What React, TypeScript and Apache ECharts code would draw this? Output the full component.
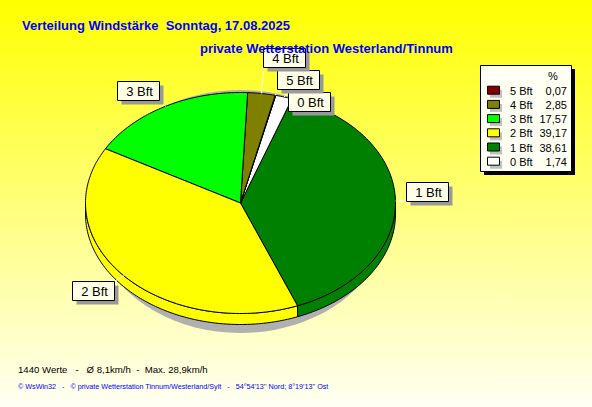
import React, { useEffect, useRef } from 'react';
import * as echarts from 'echarts';

// ---- data ----
const categories = ['5 Bft', '4 Bft', '3 Bft', '2 Bft', '1 Bft', '0 Bft'];
const percentValues = [0.07, 2.85, 17.57, 39.17, 38.61, 1.74];
const sliceColors = ['#800000', '#808000', '#00ff00', '#ffff00', '#008000', '#ffffff'];
// counter-clockwise drawing order of the slices (indices into categories)
const pieOrder = [4, 5, 0, 1, 2, 3];

const titleMain = 'Verteilung Windstärke  Sonntag, 17.08.2025';
const titleSub = 'private Wetterstation Westerland/Tinnum';
const statsLine = '1440 Werte   -   Ø 8,1km/h  -  Max. 28,9km/h';
const footerLine = "© WsWin32   -   © private Wetterstation Tinnum/Westerland/Sylt   -   54°54'13'' Nord; 8°19'13'' Ost";
const legendHeader = '%';

// ---- layout ----
const PIE = { cx: 240.5, cy: 203, rx: 155, ry: 110.5, depth: 11, startDeg: -68.4 };
const LABEL_OFFSETS: number[][] = [[2, -25], [2, -46], [-48, -25], [-52, 5], [11, -19], [4, -5]];
const LABEL_W = 42;
const LABEL_H = 19;
const FONT = '"Liberation Sans", Arial, sans-serif';

const total = percentValues.reduce((a, b) => a + b, 0);
const slices = (() => {
  let a = PIE.startDeg;
  return pieOrder.map((i) => {
    const span = (percentValues[i] / total) * 360;
    const s = { index: i, a0: a, a1: a + span };
    a += span;
    return s;
  });
})();

function pt(deg: number, dy = 0): number[] {
  const r = (deg * Math.PI) / 180;
  return [PIE.cx + PIE.rx * Math.cos(r), PIE.cy - PIE.ry * Math.sin(r) + dy];
}
function arc(a0: number, a1: number, dy = 0): number[][] {
  const n = Math.max(2, Math.ceil(Math.abs(a1 - a0)) + 1);
  const pts: number[][] = [];
  for (let k = 0; k < n; k++) pts.push(pt(a0 + ((a1 - a0) * k) / (n - 1), dy));
  return pts;
}
const fmt = (v: number) => v.toFixed(2).replace('.', ',');

function txt(text: string, x: number, y: number, font: string, fill: string, align = 'left', z = 10) {
  return {
    type: 'text',
    z,
    style: { text, x, y, font, fill, textAlign: align, align, textVerticalAlign: 'middle', verticalAlign: 'middle' },
  };
}

export default function App() {
  const ref = useRef<HTMLDivElement>(null);
  useEffect(() => {
    if (!ref.current) return;
    const chart = echarts.init(ref.current, undefined, { renderer: 'svg' });

    const legendX = 480, legendY = 65, legendW = 91, legendH = 106;
    const rowY0 = 90.7, rowStep = 14.2;
    const graphic: any[] = [
      txt(titleMain, 22, 25.5, `bold 13px ${FONT}`, '#0000ff'),
      txt(titleSub, 200, 48.8, `bold 13px ${FONT}`, '#0000ff'),
      txt(statsLine, 18, 369.2, `9.6px ${FONT}`, '#000000'),
      txt(footerLine, 18, 386, `7.2px ${FONT}`, '#0000ff'),
      { type: 'rect', z: 10, shape: { x: legendX + 4, y: legendY + 4, width: legendW, height: legendH }, style: { fill: '#000000' } },
      { type: 'rect', z: 11, shape: { x: legendX + 0.5, y: legendY + 0.5, width: legendW, height: legendH }, style: { fill: '#fffff4', stroke: '#000000', lineWidth: 1 } },
      txt(legendHeader, 553, 76, `11px ${FONT}`, '#000000', 'center', 12),
    ];
    categories.forEach((c, i) => {
      const y = rowY0 + i * rowStep;
      graphic.push(
        { type: 'rect', z: 12, shape: { x: 490, y: y - 1, width: 12, height: 8 }, style: { fill: '#c0c0c0' } },
        { type: 'rect', z: 13, shape: { x: 487.5, y: y - 4.5, width: 12, height: 8 }, style: { fill: sliceColors[i], stroke: '#000000', lineWidth: 1 } },
        txt(c, 510, y, `11px ${FONT}`, '#000000', 'left', 13),
        txt(fmt(percentValues[i]), 567, y, `11px ${FONT}`, '#000000', 'right', 13)
      );
    });

    const sliceData = slices.map((s) => ({ name: categories[s.index], value: [percentValues[s.index]] }));

    const option: any = {
      animation: false,
      backgroundColor: new echarts.graphic.LinearGradient(0, 0, 0, 1, [
        { offset: 0, color: '#ffff00' },
        { offset: 1, color: '#fffff4' },
      ]),
      graphic,
      series: [
        {
          type: 'custom',
          coordinateSystem: 'none',
          silent: true,
          z: 1,
          data: [[0]],
          renderItem: () => ({
            type: 'ellipse',
            shape: { cx: PIE.cx, cy: PIE.cy + 8.5, rx: PIE.rx - 5, ry: PIE.ry + 11 },
            style: { fill: '#b0b0b0' },
          }),
        },
        {
          type: 'custom',
          coordinateSystem: 'none',
          silent: true,
          z: 2,
          data: sliceData,
          renderItem: (params: any) => {
            const s = slices[params.dataIndex];
            const children: any[] = [];
            for (let k = -1; k <= 1; k++) {
              const lo = Math.max(s.a0, 180 + 360 * k);
              const hi = Math.min(s.a1, 360 + 360 * k);
              if (lo < hi) {
                const top = arc(lo, hi, 0);
                const bottom = arc(hi, lo, PIE.depth);
                children.push({
                  type: 'polygon',
                  shape: { points: top.concat(bottom) },
                  style: { fill: sliceColors[s.index], stroke: '#000000', lineWidth: 1 },
                });
              }
            }
            return { type: 'group', children };
          },
        },
        {
          type: 'custom',
          coordinateSystem: 'none',
          silent: true,
          z: 3,
          data: sliceData,
          renderItem: (params: any) => {
            const s = slices[params.dataIndex];
            const pts = [[PIE.cx, PIE.cy]].concat(arc(s.a0, s.a1, 0));
            return {
              type: 'polygon',
              shape: { points: pts },
              style: { fill: sliceColors[s.index], stroke: '#000000', lineWidth: 1, lineJoin: 'round' },
            };
          },
        },
        {
          type: 'custom',
          coordinateSystem: 'none',
          silent: true,
          z: 4,
          data: sliceData,
          renderItem: (params: any) => {
            const s = slices[params.dataIndex];
            const mid = (s.a0 + s.a1) / 2;
            const [ax, ay] = pt(mid, 0);
            const off = LABEL_OFFSETS[s.index];
            const bx = Math.round(ax + off[0]) + 0.5;
            const by = Math.round(ay + off[1]) + 0.5;
            const corners = [
              [bx, by], [bx + LABEL_W, by], [bx, by + LABEL_H], [bx + LABEL_W, by + LABEL_H],
            ];
            let best = corners[0], bd = Infinity;
            corners.forEach((c) => {
              const d = (c[0] - ax) ** 2 + (c[1] - ay) ** 2;
              if (d < bd) { bd = d; best = c; }
            });
            return {
              type: 'group',
              children: [
                { type: 'line', shape: { x1: ax, y1: ay, x2: best[0], y2: best[1] }, style: { stroke: '#ffffff', lineWidth: 1 } },
                { type: 'rect', shape: { x: bx + 4, y: by + 4, width: LABEL_W, height: LABEL_H }, style: { fill: '#999999' } },
                { type: 'rect', shape: { x: bx, y: by, width: LABEL_W, height: LABEL_H }, style: { fill: '#ffffe8', stroke: '#000000', lineWidth: 1 } },
                {
                  type: 'text',
                  style: {
                    text: categories[s.index], x: bx + LABEL_W / 2 + 1, y: by + LABEL_H / 2 + 0.5,
                    font: `13px ${FONT}`, fill: '#000000',
                    textAlign: 'center', align: 'center', textVerticalAlign: 'middle', verticalAlign: 'middle',
                  },
                },
              ],
            };
          },
        },
      ],
    };
    chart.setOption(option);
    return () => chart.dispose();
  }, []);
  return <div ref={ref} style={{ position: 'fixed', left: 0, top: 0, width: 592, height: 407 }} />;
}
